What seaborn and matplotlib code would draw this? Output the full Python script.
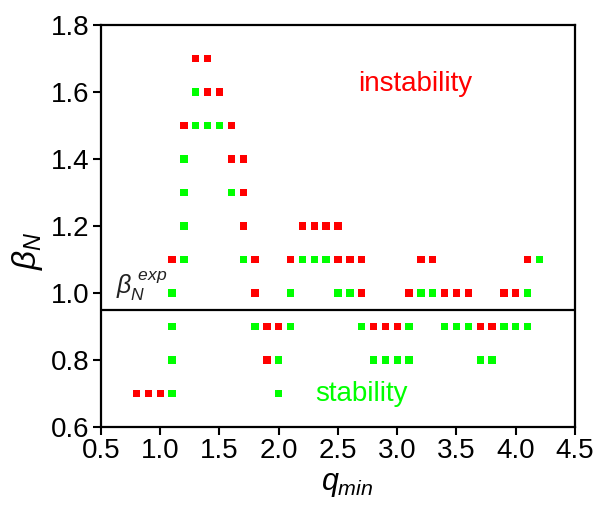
import matplotlib
matplotlib.use("Agg")
import matplotlib.pyplot as plt
import seaborn as sns
import pandas as pd

# instability (red) points
unstable_q = [1.3, 1.4,
              1.4, 1.5,
              1.2, 1.6,
              1.6, 1.7,
              1.7,
              1.7, 2.2, 2.3, 2.4, 2.5,
              1.1, 1.8, 2.1, 2.5, 2.6, 2.7, 3.2, 3.3, 4.1,
              1.8, 2.7, 3.1, 3.4, 3.5, 3.6, 3.9, 4.0,
              1.9, 2.0, 2.8, 2.9, 3.0, 3.7, 3.8,
              1.9,
              0.8, 0.9, 1.0]
unstable_b = [1.7, 1.7,
              1.6, 1.6,
              1.5, 1.5,
              1.4, 1.4,
              1.3,
              1.2, 1.2, 1.2, 1.2, 1.2,
              1.1, 1.1, 1.1, 1.1, 1.1, 1.1, 1.1, 1.1, 1.1,
              1.0, 1.0, 1.0, 1.0, 1.0, 1.0, 1.0, 1.0,
              0.9, 0.9, 0.9, 0.9, 0.9, 0.9, 0.9,
              0.8,
              0.7, 0.7, 0.7]

# stability (green) points
stable_q = [1.3,
            1.3, 1.4, 1.5,
            1.2,
            1.2, 1.6,
            1.2,
            1.2, 1.7, 2.2, 2.3, 2.4, 4.2,
            1.1, 2.1, 2.5, 2.6, 3.2, 3.3, 4.1,
            1.1, 1.8, 2.1, 2.7, 3.1, 3.4, 3.5, 3.6, 3.9, 4.0, 4.1,
            1.1, 2.0, 2.8, 2.9, 3.0, 3.1, 3.7, 3.8,
            1.1, 2.0]
stable_b = [1.6,
            1.5, 1.5, 1.5,
            1.4,
            1.3, 1.3,
            1.2,
            1.1, 1.1, 1.1, 1.1, 1.1, 1.1,
            1.0, 1.0, 1.0, 1.0, 1.0, 1.0, 1.0,
            0.9, 0.9, 0.9, 0.9, 0.9, 0.9, 0.9, 0.9, 0.9, 0.9, 0.9,
            0.8, 0.8, 0.8, 0.8, 0.8, 0.8, 0.8, 0.8,
            0.7, 0.7]

beta_exp = 0.95
x_ticks = [0.5, 1.0, 1.5, 2.0, 2.5, 3.0, 3.5, 4.0, 4.5]
y_ticks = [0.6, 0.8, 1.0, 1.2, 1.4, 1.6, 1.8]

df = pd.DataFrame({
    "q": unstable_q + stable_q,
    "b": unstable_b + stable_b,
    "state": ["instability"] * len(unstable_q) + ["stability"] * len(stable_q),
})

sns.set_style("ticks", {"axes.edgecolor": "black", "text.color": "black",
                        "xtick.color": "black", "ytick.color": "black",
                        "axes.labelcolor": "black"})
fam = ["Liberation Sans Narrow", "Liberation Sans", "DejaVu Sans"]
plt.rcParams["font.family"] = fam
plt.rcParams["mathtext.fontset"] = "custom"
plt.rcParams["mathtext.rm"] = "Liberation Sans"
plt.rcParams["mathtext.it"] = "Liberation Sans:italic"

fig = plt.figure(figsize=(5.94, 5.08), dpi=100)
ax = fig.add_axes([0.170, 0.159, 0.798, 0.792])

sns.scatterplot(data=df, x="q", y="b", hue="state",
                palette={"instability": "#ff0000", "stability": "#00ff00"},
                marker="s", s=28, linewidth=0, legend=False, ax=ax, zorder=3)

ax.axhline(beta_exp, color="black", lw=1.6, zorder=2)

ax.set_xlim(0.5, 4.5)
ax.set_ylim(0.6, 1.8)
ax.set_xticks(x_ticks)
ax.set_yticks(y_ticks)
ax.set_xticklabels([f"{v:.1f}" for v in x_ticks])
ax.set_yticklabels([f"{v:.1f}" for v in y_ticks])
ax.tick_params(axis="both", labelsize=20, direction="out", length=6, width=1.5,
               top=False, right=False, pad=2, colors="black")
for sp in ax.spines.values():
    sp.set_linewidth(1.6)
    sp.set_color("black")
    sp.set_visible(True)

ax.set_xlabel(r"$q_{min}$", fontsize=22, color="black")
ax.xaxis.set_label_coords(0.52, -0.105)
ax.set_ylabel(r"$\beta_N$", fontsize=24, color="black")
ax.yaxis.set_label_coords(-0.118, 0.44)

ax.text(3.15, 1.625, "instability", color="#ff0000", fontsize=20,
        ha="center", va="center")
ax.text(2.70, 0.70, "stability", color="#00ff00", fontsize=20,
        ha="center", va="center")
ax.text(0.63, 1.02, r"$\beta_N^{\ exp}$", color="#222222", fontsize=18,
        ha="left", va="center")

fig.savefig("out.png", dpi=100)
